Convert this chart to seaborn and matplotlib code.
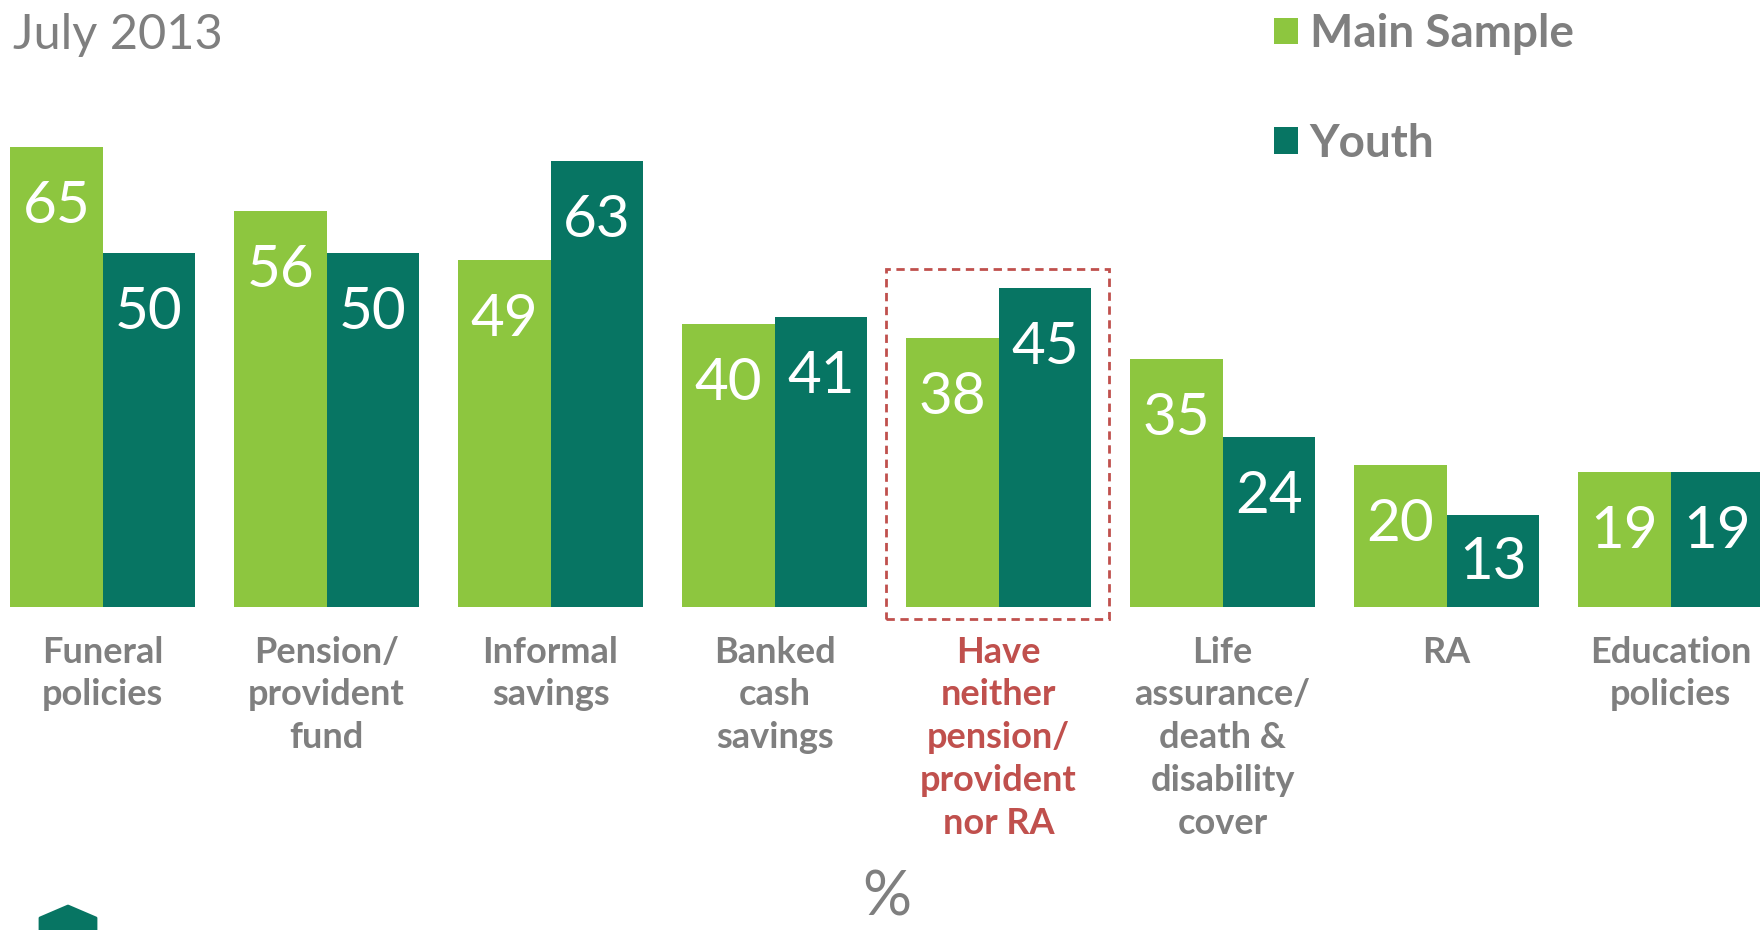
import matplotlib
matplotlib.use("Agg")
import matplotlib.pyplot as plt
from matplotlib.patches import Rectangle, Polygon, Patch
import pandas as pd
import seaborn as sns

# ---- data -------------------------------------------------------------
categories = [
    "Funeral\npolicies",
    "Pension/\nprovident\nfund",
    "Informal\nsavings",
    "Banked\ncash\nsavings",
    "Have\nneither\npension/\nprovident\nnor RA",
    "Life\nassurance/\ndeath &\ndisability\ncover",
    "RA",
    "Education\npolicies",
]
series_names = ["Main Sample", "Youth"]
main_sample = [65, 56, 49, 40, 38, 35, 20, 19]
youth = [50, 50, 63, 41, 45, 24, 13, 19]
highlight_index = 4
title_text = "July 2013"
unit_text = "%"

# ---- style ------------------------------------------------------------
GREEN = "#8DC63F"
TEAL = "#077563"
GREY = "#7F7F7F"
RED = "#C0504D"

sns.set_style("white")
plt.rcParams["font.family"] = ["Lato", "DejaVu Sans"]

W, H = 1760, 930
fig = plt.figure(figsize=(W / 100, H / 100), dpi=100)


def fx(px):
    return px / W


def fy(py):
    return 1 - py / H


# geometry of the plotting area (pixels)
base_y = 606.5          # baseline of the bars
px_per_unit = 7.07      # vertical scale
pitch = 224.0           # distance between group centres
first_center = 102.5    # centre of first group
group_width = 185 / pitch

ax = fig.add_axes([0, 1 - base_y / H, 1, base_y / H])

df = pd.DataFrame({
    "category": categories * 2,
    "series": [series_names[0]] * len(categories) + [series_names[1]] * len(categories),
    "value": main_sample + youth,
})

sns.barplot(
    data=df, x="category", y="value", hue="series",
    order=categories, hue_order=series_names,
    palette=[GREEN, TEAL], saturation=1, width=group_width, gap=0,
    linewidth=0, legend=False, ax=ax,
)

ax.set_xlim(-first_center / pitch, (W - first_center) / pitch)
ax.set_ylim(0, base_y / px_per_unit)
for s in ax.spines.values():
    s.set_visible(False)
ax.set_xlabel("")
ax.set_ylabel("")
ax.set_yticks([])
ax.tick_params(axis="x", length=0, pad=21)
ax.set_xticks(range(len(categories)))
ax.set_xticklabels(categories, fontsize=26, fontweight="bold", color=GREY,
                   linespacing=1.36, va="top")
ax.get_xticklabels()[highlight_index].set_color(RED)

# value labels inside the bars
for container, values in zip(ax.containers, [main_sample, youth]):
    for bar, v in zip(container, values):
        h_px = v * px_per_unit
        off = min(76, h_px * 0.7)
        ax.annotate(
            f"{v}", (bar.get_x() + bar.get_width() / 2, v),
            xytext=(0, -off), textcoords="offset pixels",
            ha="center", va="baseline", color="white",
            fontsize=42, fontweight="normal",
        )

# dashed frame around the highlighted group
hx0 = highlight_index - group_width / 2 - 20 / pitch
hx1 = highlight_index + group_width / 2 + 18 / pitch
hy0 = -12 / px_per_unit
hy1 = max(main_sample[highlight_index], youth[highlight_index]) + 19 / px_per_unit
ax.add_patch(Rectangle((hx0, hy0), hx1 - hx0, hy1 - hy0, fill=False,
                       edgecolor=RED, linewidth=2, linestyle=(0, (3, 2)),
                       clip_on=False))

# title
fig.text(fx(13), fy(49), title_text, fontsize=35, fontweight="normal",
         color=GREY, ha="left", va="baseline")

# legend
handles = [Patch(facecolor=GREEN, edgecolor="none"),
           Patch(facecolor=TEAL, edgecolor="none")]
leg = fig.legend(handles, series_names, loc="upper left",
                 bbox_to_anchor=(fx(1233), fy(-28)), frameon=False,
                 prop={"family": ["Lato", "DejaVu Sans"], "weight": "bold", "size": 33},
                 handlelength=0.52, handleheight=0.52, handletextpad=0.25,
                 labelspacing=1.48)
for t in leg.get_texts():
    t.set_color(GREY)

# unit sign
fig.text(fx(887), fy(926), unit_text, fontsize=44, fontweight="normal",
         color=GREY, ha="center", va="bottom")

# small house-shaped marker in the lower left corner
fig.patches.append(Polygon(
    [(fx(40), fy(940)), (fx(40), fy(918)), (fx(68), fy(906)),
     (fx(96), fy(918)), (fx(96), fy(940))],
    closed=True, transform=fig.transFigure, facecolor=TEAL, edgecolor=TEAL,
    linewidth=2, joinstyle="round", figure=fig))

fig.savefig("out.png", dpi=100)
